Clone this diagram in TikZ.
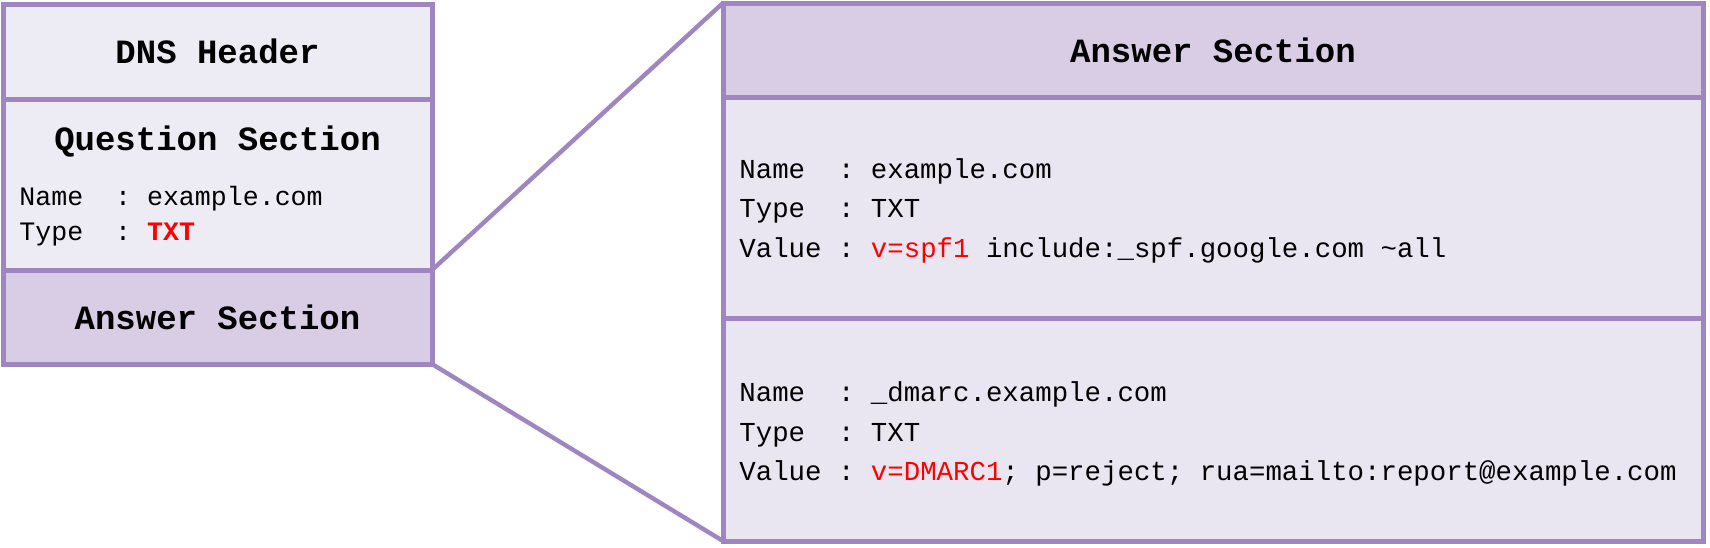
\documentclass[tikz,border=0pt]{standalone}
\usepackage{fontspec}
\setmonofont{Liberation Mono}
\definecolor{bordercol}{HTML}{9F86C0}
\definecolor{headfill}{HTML}{D9CDE5}
\definecolor{bodyfill}{HTML}{EAE6F1}
\definecolor{lightfill}{HTML}{EDEBF3}
\definecolor{hired}{HTML}{FF0000}
\tikzset{
  panel/.style={draw=bordercol, line width=2.5pt, inner sep=0pt, outer sep=0pt},
  headtext/.style={font=\ttfamily\bfseries\fontsize{17pt}{20pt}\selectfont},
  ltext/.style={font=\ttfamily\fontsize{13.3pt}{16pt}\selectfont, anchor=base west, inner sep=0pt},
  rtext/.style={font=\ttfamily\fontsize{13.7pt}{17pt}\selectfont, anchor=base west, inner sep=0pt},
  zoomline/.style={draw=bordercol, line width=2.2pt}
}
\begin{document}
\begin{tikzpicture}[x=0.5pt,y=-0.5pt]
\useasboundingbox (0,0) rectangle (1710,547);
% left panel
\node[panel, fill=lightfill, minimum width=214.5pt, minimum height=47.5pt, headtext] (dns) at (217.5,51.5) {DNS Header};
\node[panel, fill=lightfill, minimum width=214.5pt, minimum height=85.5pt] (qs) at (217.5,184.5) {};
\node[panel, fill=headfill, minimum width=214.5pt, minimum height=47pt, headtext] (ans) at (217.5,317) {Answer Section};
\node[headtext, inner sep=0pt] (qtitle) at (217.5,142) {Question Section};
\node[ltext] (qname) at (19,205) {Name\ \ : example.com};
\node[ltext] (qtype) at (19,240) {Type\ \ : \textcolor{hired}{\bfseries TXT}};
% right panel
\node[panel, fill=headfill, minimum width=490pt, minimum height=47pt, headtext] (rhead) at (1213,50) {Answer Section};
\node[panel, fill=bodyfill, minimum width=490pt, minimum height=110.5pt] (r1) at (1213,207.5) {};
\node[panel, fill=bodyfill, minimum width=490pt, minimum height=111.5pt] (r2) at (1213,429.5) {};
\node[rtext] (r1name) at (739,178) {Name\ \ : example.com};
\node[rtext] (r1type) at (739,217) {Type\ \ : TXT};
\node[rtext] (r1val) at (739,257) {Value : \textcolor{hired}{v=spf1} include:\_spf.google.com \textasciitilde all};
\node[rtext] (r2name) at (739,401) {Name\ \ : \_dmarc.example.com};
\node[rtext] (r2type) at (739,441) {Type\ \ : TXT};
\node[rtext] (r2val) at (739,480) {Value : \textcolor{hired}{v=DMARC1}; p=reject; rua=mailto:report@example.com};
% zoom connectors
\draw[zoomline] (ans.north east) -- (rhead.north west);
\draw[zoomline] (ans.south east) -- (r2.south west);
\end{tikzpicture}
\end{document}
